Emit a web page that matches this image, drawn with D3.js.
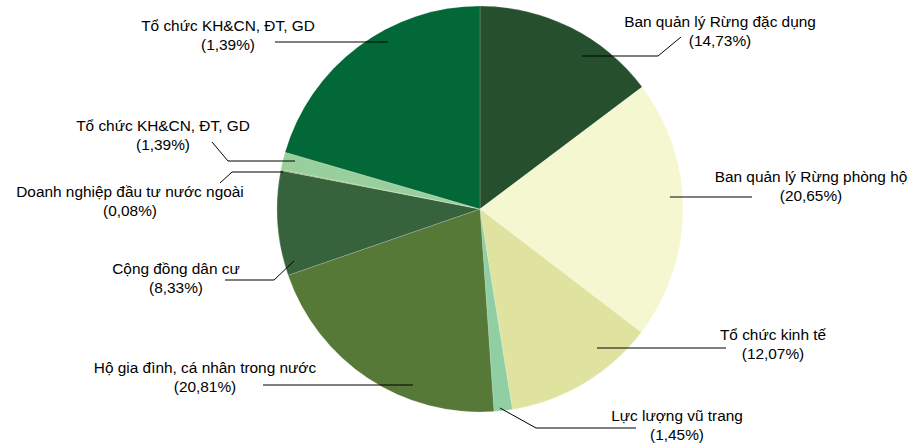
<!DOCTYPE html>
<html>
<head>
<meta charset="utf-8">
<script src="https://cdn.jsdelivr.net/npm/d3@7"></script>
<style>
  body { margin: 0; background: #fff; }
  svg text { font-family: "Liberation Sans", Arial, sans-serif; font-size: 15.4px; fill: #000; }
</style>
</head>
<body>
<script>
// chart size and pie geometry
var W = 911;
var H = 447;
var CX = 480;
var CY = 209;
var R = 203;

// slices, clockwise from 12 o'clock
var categories = [
  "Ban quản lý Rừng đặc dụng",
  "Ban quản lý Rừng phòng hộ",
  "Tổ chức kinh tế",
  "Lực lượng vũ trang",
  "Hộ gia đình, cá nhân trong nước",
  "Cộng đồng dân cư",
  "Doanh nghiệp đầu tư nước ngoài",
  "Tổ chức KH&CN, ĐT, GD",
  "Tổ chức KH&CN, ĐT, GD"
];
// slice sizes as drawn (the last slice is drawn much larger than its label says)
var values = [14.73, 20.65, 12.07, 1.45, 20.81, 8.33, 0.08, 1.39, 20.49];
// percent text printed under each label
var pctLabels = ["(14,73%)", "(20,65%)", "(12,07%)", "(1,45%)", "(20,81%)",
                 "(8,33%)", "(0,08%)", "(1,39%)", "(1,39%)"];
var colors = ["#264f2d", "#f4f7cf", "#e0e3a0", "#8fcfa3", "#567938",
              "#37633c", "#8a9f4e", "#98cf9c", "#026838"];

// label placement: centre x, baseline of first line, leader polyline
var labelLayout = [
  { x: 720, y: 27,  leader: [[582, 56], [658, 56], [681, 37]] },
  { x: 811, y: 182, leader: [[670, 197], [752, 197]] },
  { x: 773, y: 340, leader: [[597, 348], [726, 348]] },
  { x: 677, y: 421, leader: [[500, 408], [536, 428], [636, 428]] },
  { x: 205, y: 373, leader: [[413, 385], [263, 385]] },
  { x: 176, y: 274, leader: [[294, 261], [274, 280], [225, 280]] },
  { x: 130, y: 197, leader: [[283, 172], [232, 172], [220, 183]] },
  { x: 163, y: 131, leader: [[295, 161], [228, 161], [212, 142]] },
  { x: 228, y: 31,  leader: [[388, 42], [275, 42]] }
];
var LINE_H = 19;

function main() {
  var svg = d3.select("body").append("svg")
      .attr("width", W)
      .attr("height", H);

  drawPie(svg);
  drawLabels(svg);
}

function drawPie(svg) {
  //Pie starts at the top and goes clockwise, no sorting
  var pie = d3.pie().sort(null).value(function(d) { return d; });
  var arc = d3.arc().innerRadius(0).outerRadius(R);

  var g = svg.append("g")
      .attr("transform", "translate(" + CX + "," + CY + ")");

  g.selectAll("path")
      .data(pie(values))
      .enter()
      .append("path")
      .attr("d", arc)
      .attr("fill", function(d, i) { return colors[i]; })
      .attr("stroke", "rgba(255,255,255,0.35)")
      .attr("stroke-width", 0.5);
}

function drawLabels(svg) {
  var line = d3.line();

  svg.selectAll("path.leader")
      .data(labelLayout)
      .enter()
      .append("path")
      .attr("class", "leader")
      .attr("d", function(d) { return line(d.leader); })
      .attr("fill", "none")
      .attr("stroke", "#000")
      .attr("stroke-width", 1);

  var t = svg.selectAll("text.lbl")
      .data(categories)
      .enter()
      .append("text")
      .attr("class", "lbl")
      .attr("text-anchor", "middle")
      .attr("x", function(d, i) { return labelLayout[i].x; })
      .attr("y", function(d, i) { return labelLayout[i].y; });

  t.append("tspan")
      .attr("x", function(d, i) { return labelLayout[i].x; })
      .text(function(d) { return d; });
  t.append("tspan")
      .attr("x", function(d, i) { return labelLayout[i].x; })
      .attr("dy", LINE_H)
      .text(function(d, i) { return pctLabels[i]; });
}

main();
</script>
</body>
</html>
